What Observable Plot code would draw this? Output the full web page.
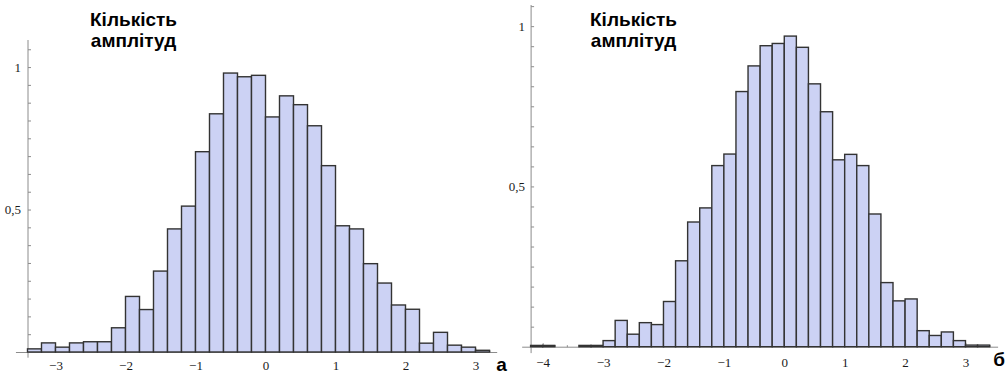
<!DOCTYPE html>
<html><head><meta charset="utf-8">
<script src="https://cdn.jsdelivr.net/npm/d3@7"></script>
<script src="https://cdn.jsdelivr.net/npm/@observablehq/plot@0.6"></script>
<style>
body{margin:0;background:#fff}
#wrap{position:relative;width:1006px;height:376px;overflow:hidden}
.panel{position:absolute;top:0}
</style>
</head><body>
<div id="wrap"><div id="pa" class="panel" style="left:0"></div><div id="pb" class="panel" style="left:503px"></div></div>
<script>
// ---- data ----
const binWidth = 0.2;
const edgesA = [-3.4,-3.2,-3.0,-2.8,-2.6,-2.4,-2.2,-2.0,-1.8,-1.6,-1.4,-1.2,-1.0,-0.8,-0.6,-0.4,-0.2,
                0.0,0.2,0.4,0.6,0.8,1.0,1.2,1.4,1.6,1.8,2.0,2.2,2.4,2.6,2.8,3.0];
const heightsA = [0.011,0.032,0.017,0.032,0.036,0.036,0.085,0.195,0.149,0.284,0.432,0.512,0.703,0.836,0.979,0.966,0.971,
                  0.825,0.899,0.868,0.794,0.654,0.443,0.432,0.310,0.242,0.165,0.150,0.031,0.069,0.024,0.017,0.006];
const edgesB = [-4.2,-4.0,-3.4,-3.2,-3.0,-2.8,-2.6,-2.4,-2.2,-2.0,-1.8,-1.6,-1.4,-1.2,-1.0,-0.8,-0.6,-0.4,-0.2,
                0.0,0.2,0.4,0.6,0.8,1.0,1.2,1.4,1.6,1.8,2.0,2.2,2.4,2.6,2.8,3.0,3.2];
const heightsB = [0.004,0.004,0.004,0.004,0.019,0.082,0.039,0.075,0.069,0.141,0.268,0.389,0.433,0.565,0.601,0.796,0.876,0.939,0.946,
                  0.969,0.934,0.820,0.733,0.583,0.600,0.565,0.414,0.200,0.143,0.149,0.050,0.035,0.046,0.019,0.005,0.005];
const xTicksA = [-3,-2,-1,0,1,2,3];
const xTicksB = [-4,-3,-2,-1,0,1,2,3];
const yTicks = [0.5, 1];
const yTickLabels = ["0,5", "1"];
const titleText = "Кількість\nамплітуд";
const panelLabels = ["а", "б"];

// ---- drawing ----
const serif = "'Liberation Serif', 'DejaVu Serif', serif";
const tickUpMajor = {draw(ctx){ ctx.moveTo(0,0); ctx.lineTo(0,-4); }};
const tickUpMinor = {draw(ctx){ ctx.moveTo(0,0); ctx.lineTo(0,-2); }};
const tickRight = {draw(ctx){ ctx.moveTo(0,0); ctx.lineTo(3,0); }};

function panel(o) {
  const rows = o.edges.map((e, i) => ({x1: e, x2: e + binWidth, y: o.heights[i]}));
  const xMin = o.xDomain[0];
  const minorX = d3.range(Math.ceil(o.axisX[0] / binWidth), Math.floor(o.axisX[1] / binWidth) + 1)
    .map(k => +(k * binWidth).toFixed(2)).filter(v => !o.xTicks.includes(v) && v >= xMin);
  const minorY = d3.range(1, 18).map(k => k / 16).filter(v => v < o.yDomain[1]);
  return Plot.plot({
    width: 503, height: 376,
    marginLeft: o.ml, marginRight: o.mr, marginTop: o.mt, marginBottom: o.mb,
    style: `font-family: ${serif}; font-size: 13px; background: transparent; overflow: visible; color: #1a1a1a;`,
    x: {domain: o.xDomain},
    y: {domain: o.yDomain},
    marks: [
      Plot.ruleY([0], {x1: o.axisX[0], x2: o.axisX[1], stroke: "#8c8c8c", strokeWidth: 1}),
      Plot.ruleX([xMin], {y1: -0.02, y2: o.yDomain[1], stroke: "#8c8c8c", strokeWidth: 1}),
      Plot.dot(o.xTicks, {x: d => d, y: 0, symbol: tickUpMajor, fill: "none", stroke: "#8c8c8c", strokeWidth: 1}),
      Plot.dot(minorX, {x: d => d, y: 0, symbol: tickUpMinor, fill: "none", stroke: "#8c8c8c", strokeWidth: 1}),
      Plot.dot(minorY, {x: xMin, y: d => d, symbol: tickRight, fill: "none", stroke: "#8c8c8c", strokeWidth: 1}),
      Plot.rectY(rows, {x1: "x1", x2: "x2", y: "y", fill: "#ccd2f4", stroke: "#333", strokeWidth: 1.4}),
      Plot.axisX(o.xTicks, {tickSize: 0, tickPadding: o.padX, fontSize: 13, fontFamily: serif, label: null}),
      Plot.axisY(yTicks, {tickSize: 0, tickPadding: o.padY, fontSize: 13, fontFamily: serif, label: null,
        tickFormat: d => yTickLabels[yTicks.indexOf(d)]}),
      Plot.text([titleText], {frameAnchor: "top-left", dx: o.tdx, dy: o.tdy, textAnchor: "middle", lineAnchor: "top",
        lineHeight: 1.1, fontFamily: "'Liberation Sans', Arial, sans-serif", fontWeight: "bold", fontSize: 19, fill: "#000"}),
      Plot.text([o.label], {frameAnchor: "bottom-right", dx: o.ldx, dy: o.ldy, textAnchor: "middle", lineAnchor: "middle",
        fontFamily: "'Liberation Sans', Arial, sans-serif", fontWeight: "bold", fontSize: 19, fill: "#000"})
    ]
  });
}

document.getElementById("pa").append(panel({
  edges: edgesA, heights: heightsA, xTicks: xTicksA,
  xDomain: [-3.4, 3.35], ml: 27.5, mr: 3,
  yDomain: [0, 1.095], mt: 40, mb: 24,
  axisX: [-3.565, 3.31], padX: 8, padY: 7,
  tdx: 105.5, tdy: -29.5, label: panelLabels[0], ldx: 1, ldy: 12
}));
document.getElementById("pb").append(panel({
  edges: edgesB, heights: heightsB, xTicks: xTicksB,
  xDomain: [-4.2, 3.55], ml: 27.6, mr: 7.3,
  yDomain: [0, 1.066], mt: 5, mb: 29.3,
  axisX: [-4.34, 3.54], padX: 10.5, padY: 6,
  tdx: 102.4, tdy: 5.5, label: panelLabels[1], ldx: 0, ldy: 13
}));
</script>
</body></html>
